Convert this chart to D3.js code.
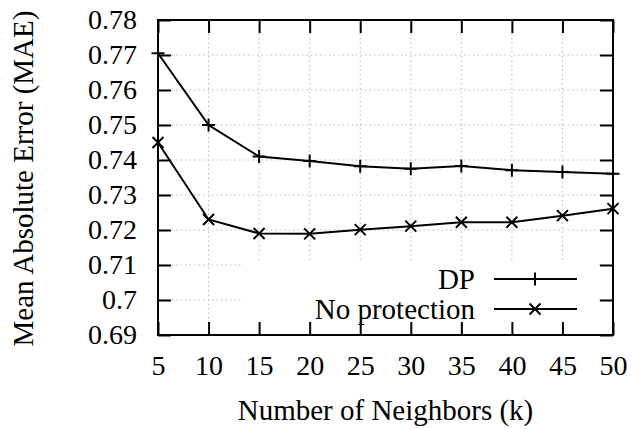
<!DOCTYPE html>
<html>
<head>
<meta charset="utf-8">
<script src="https://cdn.jsdelivr.net/npm/d3@7"></script>
<style>
  body { margin: 0; background: #fff; }
</style>
</head>
<body>
<div id="chart"></div>
<script>
var neighbors = [5, 10, 15, 20, 25, 30, 35, 40, 45, 50];
var dpValues = [0.7705, 0.750, 0.741, 0.7397, 0.7382, 0.7375, 0.7383, 0.7371, 0.7366, 0.7361];
var noProtValues = [0.745, 0.723, 0.7190, 0.7189, 0.7201, 0.7211, 0.7222, 0.7222, 0.7241, 0.7261];
var yTicks = [0.69, 0.70, 0.71, 0.72, 0.73, 0.74, 0.75, 0.76, 0.77, 0.78];
var yTickLabels = ['0.69', '0.7', '0.71', '0.72', '0.73', '0.74', '0.75', '0.76', '0.77', '0.78'];
var seriesNames = ['DP', 'No protection'];

var width = 635,
    height = 429,
    tickFont = 28,
    labelFont = 29,
    serif = "'Liberation Serif', 'Times New Roman', serif";

var frame = {left: 158, right: 613, top: 20, bottom: 335};

var x = d3.scaleLinear().domain([5, 50]).range([frame.left, frame.right]);
var y = d3.scaleLinear().domain([0.69, 0.78]).range([frame.bottom, frame.top]);

var svg = d3.select('#chart').append('svg')
  .attr('width', width)
  .attr('height', height);

// grid (dotted)
var grid = svg.append('g').attr('class', 'grid')
  .attr('stroke', '#b8b8b8')
  .attr('stroke-width', 1)
  .attr('stroke-dasharray', '1.5,3');

grid.selectAll('.vgrid')
  .data(neighbors.slice(1, -1))
  .enter().append('line')
  .attr('x1', function(d) { return x(d); })
  .attr('x2', function(d) { return x(d); })
  .attr('y1', y(0.78))
  .attr('y2', y(0.69));

grid.selectAll('.hgrid')
  .data(yTicks.slice(1, -1))
  .enter().append('line')
  .attr('x1', x(5))
  .attr('x2', x(50))
  .attr('y1', function(d) { return y(d); })
  .attr('y2', function(d) { return y(d); });

// opaque key box covers the grid
var keyBox = {x0: 243, x1: 597, y0: 263};
svg.append('rect')
  .attr('x', keyBox.x0)
  .attr('y', keyBox.y0)
  .attr('width', keyBox.x1 - keyBox.x0)
  .attr('height', frame.bottom - keyBox.y0)
  .attr('fill', '#fff');

// axes
var fmtY = function(d) { return yTickLabels[yTicks.indexOf(d)]; };

svg.append('g')
  .attr('transform', 'translate(0,' + frame.bottom + ')')
  .call(d3.axisBottom(x).tickValues(neighbors).tickSizeInner(-13).tickSizeOuter(0).tickPadding(20).tickFormat(d3.format('d')));

svg.append('g')
  .attr('transform', 'translate(0,' + frame.top + ')')
  .call(d3.axisTop(x).tickValues(neighbors).tickSizeInner(-13).tickSizeOuter(0).tickFormat(''));

svg.append('g')
  .attr('transform', 'translate(' + frame.left + ',0)')
  .call(d3.axisLeft(y).tickValues(yTicks).tickSizeInner(-13).tickSizeOuter(0).tickPadding(21).tickFormat(fmtY));

svg.append('g')
  .attr('transform', 'translate(' + frame.right + ',0)')
  .call(d3.axisRight(y).tickValues(yTicks).tickSizeInner(-13).tickSizeOuter(0).tickFormat(''));

svg.selectAll('.domain').remove();
svg.selectAll('.tick line').attr('stroke', '#000').attr('stroke-width', 2);
svg.selectAll('.tick text')
  .style('font-family', serif)
  .style('font-size', tickFont + 'px')
  .attr('fill', '#000');

// border
svg.append('rect')
  .attr('x', frame.left)
  .attr('y', frame.top)
  .attr('width', frame.right - frame.left)
  .attr('height', frame.bottom - frame.top)
  .attr('fill', 'none')
  .attr('stroke', '#000')
  .attr('stroke-width', 2);

// axis titles
svg.append('text')
  .attr('x', (frame.left + frame.right) / 2)
  .attr('y', 420)
  .attr('text-anchor', 'middle')
  .style('font-family', serif)
  .style('font-size', labelFont + 'px')
  .text('Number of Neighbors (k)');

svg.append('text')
  .attr('transform', 'translate(33,' + ((frame.top + frame.bottom) / 2 + 1) + ') rotate(-90)')
  .attr('text-anchor', 'middle')
  .style('font-family', serif)
  .style('font-size', labelFont + 'px')
  .text('Mean Absolute Error (MAE)');

// series
var line = d3.line()
  .x(function(d) { return x(d[0]); })
  .y(function(d) { return y(d[1]); });

function plus(g, s) {
  g.append('path').attr('d', 'M' + (-s) + ',0H' + s + 'M0,' + (-s) + 'V' + s);
}
function cross(g, s) {
  g.append('path').attr('d', 'M' + (-s) + ',' + (-s) + 'L' + s + ',' + s + 'M' + (-s) + ',' + s + 'L' + s + ',' + (-s));
}

var series = [
  {name: seriesNames[0], values: dpValues, marker: plus, size: 6.5},
  {name: seriesNames[1], values: noProtValues, marker: cross, size: 5.5}
];

series.forEach(function(s, i) {
  var pts = neighbors.map(function(k, j) { return [k, s.values[j]]; });
  var g = svg.append('g')
    .attr('stroke', '#000')
    .attr('stroke-width', 2)
    .attr('fill', 'none');

  g.append('path').attr('d', line(pts));

  pts.forEach(function(p) {
    var m = g.append('g').attr('transform', 'translate(' + x(p[0]) + ',' + y(p[1]) + ')');
    s.marker(m, s.size);
  });

  // legend entry
  var ly = 279 + i * 30;
  svg.append('text')
    .attr('x', 475)
    .attr('y', ly)
    .attr('dy', '0.33em')
    .attr('text-anchor', 'end')
    .style('font-family', serif)
    .style('font-size', labelFont + 'px')
    .text(s.name);
  var lg = svg.append('g')
    .attr('stroke', '#000')
    .attr('stroke-width', 2)
    .attr('fill', 'none');
  lg.append('line').attr('x1', 494).attr('x2', 577).attr('y1', ly).attr('y2', ly);
  var lm = lg.append('g').attr('transform', 'translate(535,' + ly + ')');
  s.marker(lm, s.size);
});
</script>
</body>
</html>
